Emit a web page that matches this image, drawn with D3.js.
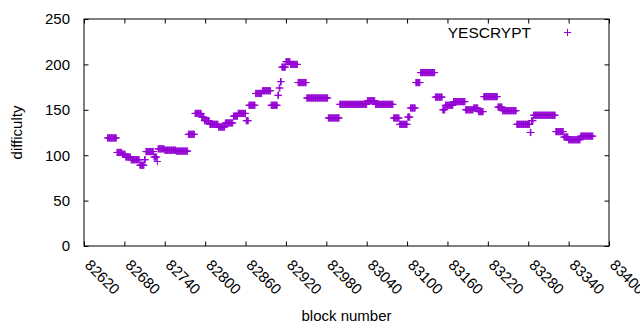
<!DOCTYPE html>
<html>
<head>
<meta charset="utf-8">
<script src="https://cdn.jsdelivr.net/npm/d3@7"></script>
<style>
  body { margin: 0; background: #fff; }
  text { font-family: "Liberation Sans", Arial, sans-serif; fill: #000; }
</style>
</head>
<body>
<div id="chart"></div>
<script>
// difficulty runs: block range -> value
var runStart = [82655, 82669, 82677, 82682, 82690, 82703, 82710, 82712, 82724, 82729,
                82730, 82740, 82757, 82775, 82785, 82795, 82799, 82807, 82820, 82830,
                82842, 82849, 82861, 82865, 82875, 82885, 82898, 82908, 82910, 82912,
                82914, 82920, 82927, 82938, 82951, 82983, 83000, 83041, 83053, 83080,
                83089, 83101, 83105, 83113, 83120, 83142, 83153, 83157, 83169, 83187,
                83199, 83206, 83214, 83235, 83242, 83263, 83283, 83285, 83288, 83321,
                83333, 83340, 83358];
var runEnd   = [82668, 82676, 82681, 82689, 82702, 82709, 82711, 82723, 82728, 82729,
                82739, 82756, 82774, 82784, 82794, 82798, 82806, 82819, 82829, 82841,
                82848, 82860, 82864, 82874, 82884, 82897, 82907, 82909, 82911, 82913,
                82919, 82926, 82937, 82950, 82982, 82999, 83040, 83052, 83079, 83088,
                83100, 83104, 83112, 83119, 83141, 83152, 83156, 83168, 83186, 83198,
                83205, 83213, 83234, 83241, 83262, 83282, 83284, 83287, 83320, 83332,
                83339, 83357, 83376];
var runValue = [119, 103, 101, 98, 95, 89, 95, 104, 98, 93,
                107, 105.5, 104.5, 123, 146, 142, 138, 134, 131, 135.5,
                143, 146, 138, 155, 168, 171, 155, 166, 174, 181,
                197, 203, 200, 180, 163, 141, 156, 160, 156, 141,
                134, 142, 152, 180, 191, 164, 150, 155, 159, 150,
                152, 148, 164.5, 153, 149, 134, 125, 138, 144, 126,
                120, 117, 121];

var xTicks = [82620, 82680, 82740, 82800, 82860, 82920, 82980, 83040, 83100, 83160, 83220, 83280, 83340, 83400];
var yTicks = [0, 50, 100, 150, 200, 250];
var seriesName = "YESCRYPT";

var margin = {top: 19, right: 31, bottom: 84, left: 84};
var width = 640 - margin.left - margin.right;
var height = 330 - margin.top - margin.bottom;

var data = [];
runStart.forEach(function(s, i) {
    d3.range(s, runEnd[i] + 1).forEach(function(b) {
        data.push({block: b, difficulty: runValue[i]});
    });
});

var x = d3.scaleLinear().domain([82620, 83400]).range([0, width]);
var y = d3.scaleLinear().domain([0, 250]).range([height, 0]);

var svg = d3.select("#chart").append("svg")
    .attr("width", 640)
    .attr("height", 330)
    .append("g")
    .attr("transform", `translate(${margin.left},${margin.top})`);

var tick = 4.5;
var purple = "#9400d3";
var plus = "M-3.6,0H3.6M0,-3.6V3.6";

// y axis, ticks inward, mirrored on the right
var yAxis = d3.axisLeft(y).tickValues(yTicks).tickSize(-tick).tickPadding(14);
svg.append("g").call(yAxis)
    .call(g => g.select(".domain").remove())
    .selectAll("text").style("font-size", "15px").style("font-family", "Liberation Sans, Arial, sans-serif");
svg.append("g").attr("transform", `translate(${width},0)`)
    .call(d3.axisRight(y).tickValues(yTicks).tickSize(-tick).tickFormat(""))
    .call(g => g.select(".domain").remove());

// x axis, ticks inward, mirrored on top
var xAxis = d3.axisBottom(x).tickValues(xTicks).tickSize(-tick).tickFormat("");
svg.append("g").attr("transform", `translate(0,${height})`).call(xAxis)
    .call(g => g.select(".domain").remove());
svg.append("g").call(d3.axisTop(x).tickValues(xTicks).tickSize(-tick).tickFormat(""))
    .call(g => g.select(".domain").remove());

// rotated x tick labels
svg.selectAll(".xlabel")
    .data(xTicks)
    .enter().append("text")
    .attr("class", "xlabel")
    .attr("transform", d => `translate(${x(d)},${height + 20}) rotate(45)`)
    .style("font-size", "15px")
    .text(d => d);

// border
svg.append("rect")
    .attr("width", width)
    .attr("height", height)
    .attr("fill", "none")
    .attr("stroke", "#000")
    .attr("stroke-width", 1);

// points
svg.selectAll(".pt")
    .data(data)
    .enter().append("path")
    .attr("class", "pt")
    .attr("d", plus)
    .attr("transform", d => `translate(${x(d.block)},${y(d.difficulty)})`)
    .attr("stroke", purple)
    .attr("stroke-width", 1)
    .attr("fill", "none");

// axis titles
svg.append("text")
    .attr("x", width / 2)
    .attr("y", height + 75)
    .attr("text-anchor", "middle")
    .style("font-size", "15px")
    .text("block number");

svg.append("text")
    .attr("transform", "rotate(-90)")
    .attr("x", -height / 2)
    .attr("y", -margin.left + 22)
    .attr("text-anchor", "middle")
    .style("font-size", "15px")
    .text("difficulty");

// legend
svg.append("text")
    .attr("x", 531 - margin.left)
    .attr("y", 37.5 - margin.top)
    .attr("text-anchor", "end")
    .style("font-size", "15.5px")
    .text(seriesName);
svg.append("path")
    .attr("d", plus)
    .attr("transform", `translate(${567.5 - margin.left},${32.5 - margin.top})`)
    .attr("stroke", purple)
    .attr("fill", "none");
</script>
</body>
</html>
